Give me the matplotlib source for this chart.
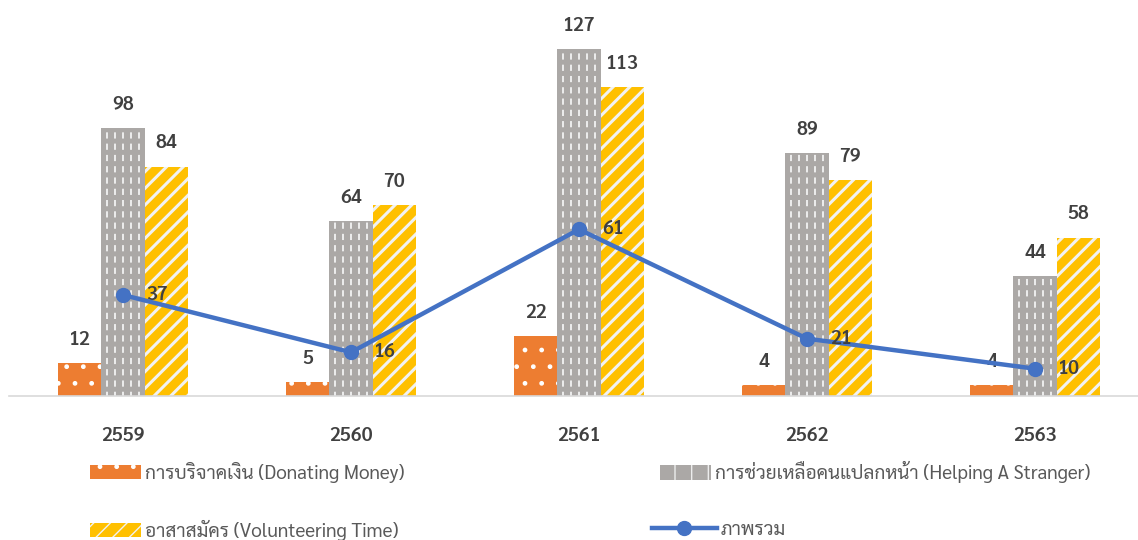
import numpy as np
import matplotlib
matplotlib.use("Agg")
import matplotlib.pyplot as plt
from matplotlib import font_manager
from matplotlib.lines import Line2D
from matplotlib.patches import Patch


def pick_font(options):
    """First family in `options` that is installed"""
    for name in options:
        try:
            font_manager.findfont(font_manager.FontProperties(family=name),
                                  fallback_to_default=False)
            return name
        except ValueError:
            continue
    return "DejaVu Sans"


years = ["2559", "2560", "2561", "2562", "2563"]
donating = [12, 5, 22, 4, 4]
helping = [98, 64, 127, 89, 44]
volunteering = [84, 70, 113, 79, 58]
overall = [37, 16, 61, 21, 10]

names = [
    "การบริจาคเงิน (Donating Money)",
    "การช่วยเหลือคนแปลกหน้า (Helping A Stranger)",
    "อาสาสมัคร (Volunteering Time)",
    "ภาพรวม",
]

ORANGE = "#ED7D31"
GRAY = "#ABA8A6"
YELLOW = "#FFC000"
BLUE = "#4472C4"
TXT = "#404040"

thai = pick_font(["Sarabun", "Noto Sans Thai", "IBM Plex Sans Thai Looped", "Niramit"])
plt.rcParams["font.family"] = [thai, "DejaVu Sans"]

fig = plt.figure(figsize=(11.38, 5.40), dpi=100)
ax = fig.add_axes([9 / 1138, 1 - 396 / 540, 1140 / 1138, 396 / 540])

x = np.arange(len(years))
w = 0.19


def hatched_bar(xs, vals, color, hatch, hlw, hcolor="white"):
    bars = ax.bar(xs, vals, w, color=color, edgecolor=hcolor, linewidth=0, hatch=hatch)
    for b in bars:
        try:
            b.set_hatch_linewidth(hlw)
        except AttributeError:
            pass
    return bars


b1 = hatched_bar(x - w, donating, ORANGE, ".", 1.0)
b2 = ax.bar(x, helping, w, color=GRAY, linewidth=0)
b3 = hatched_bar(x + w, volunteering, YELLOW, "//", 2.2, "#F2F2F2")

# dashed white strokes inside the gray bars
for b in b2:
    cols = b.get_x() + b.get_width() * np.array([0.12, 0.31, 0.5, 0.69, 0.88])
    ax.vlines(cols, 0, b.get_height(), colors="#EDEDED", linewidth=1.4,
              linestyles=(1, (3.2, 2.6)), zorder=b.get_zorder() + 0.1)

for bars, vals in [(b1, donating), (b2, helping), (b3, volunteering)]:
    for b, v in zip(bars, vals):
        ax.text(b.get_x() + b.get_width() / 2, v + 8.5, str(v), ha="center", va="center",
                fontsize=14, color=TXT, fontweight="semibold")

ax.plot(x, overall, color=BLUE, lw=3.2, marker="o", ms=10, zorder=5)
for xi, v in zip(x, overall):
    ax.text(xi + 0.1, v, str(v), ha="left", va="center", fontsize=14, color=TXT,
            fontweight="semibold", zorder=6)

ax.set_xlim(-0.5, 4.5)
ax.set_ylim(0, 145)
for s in ["top", "right", "left"]:
    ax.spines[s].set_visible(False)
ax.spines["bottom"].set_color("#D9D9D9")
ax.spines["bottom"].set_linewidth(1.2)
ax.set_yticks([])
ax.set_xticks(x)
ax.set_xticklabels(years, fontsize=14, color=TXT, fontweight="semibold")
ax.tick_params(axis="x", length=0, pad=22)

handles = [
    Patch(facecolor=ORANGE, edgecolor="white", hatch=".", linewidth=0),
    Patch(facecolor=GRAY, edgecolor="#EDEDED", hatch="|", linewidth=0),
    Patch(facecolor=YELLOW, edgecolor="#F2F2F2", hatch="//", linewidth=0),
    Line2D([], [], color=BLUE, lw=3.2, marker="o", ms=10),
]
spots = [(90 / 1138, 1 - 472 / 540), (660 / 1138, 1 - 472 / 540),
         (90 / 1138, 1 - 530 / 540), (652 / 1138, 1 - 530 / 540)]
lengths = [2.7, 2.7, 2.7, 3.4]
for h, name, (lx, ly), hl in zip(handles, names, spots, lengths):
    fig.legend([h], [name], loc="center left", bbox_to_anchor=(lx, ly), frameon=False,
               fontsize=13.7, labelcolor="#595959", handlelength=hl, handleheight=0.8,
               handletextpad=0.2, borderpad=0, borderaxespad=0)

fig.savefig("out.png", dpi=100)
